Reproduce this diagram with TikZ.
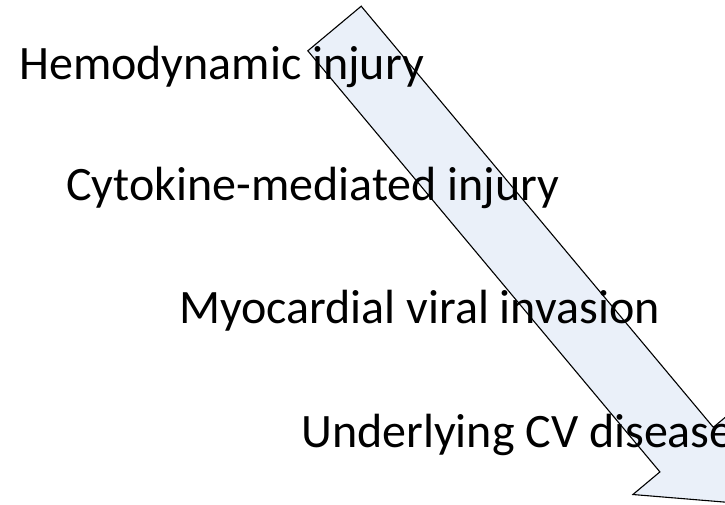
\documentclass[tikz,border=0pt]{standalone}
\usepackage{fontspec}
\setmainfont{Carlito}
\usepackage{xcolor}
\usepackage{tikz}
\usetikzlibrary{positioning}

\definecolor{arrowfill}{RGB}{234,240,249}

\begin{document}
\begin{tikzpicture}[
	x=1pt,y=-1pt,
	cause/.style={
		anchor=base west,
		inner sep=0pt,
		font=\fontsize{48}{56}\selectfont
	},
	bigarrow/.style={
		draw=black,
		fill=arrowfill,
		line width=1.1pt,
		line join=miter
	}
	]
	
	\clip (0,0) rectangle (725,504);
	
	% corners of the block arrow
	\coordinate (tailtop) at (361.2,6.2);
	\coordinate (tailleft) at (307.8,50.8);
	\coordinate (innerleft) at (659.9,471.9);
	\coordinate (outerleft) at (632.9,494.5);
	\coordinate (tip) at (730.9,502.6);
	\coordinate (outerright) at (740.3,404.7);
	\coordinate (innerright) at (713.3,427.3);
	
	\draw[bigarrow] (tailtop) -- (tailleft) -- (innerleft) -- (outerleft)
		-- (tip) -- (outerright) -- (innerright) -- cycle;
	
	\node[cause] (hemo) at (19,79) {Hemodynamic injury};
	\node[cause] (cyto) at (66,200) {Cytokine-mediated injury};
	\node[cause] (myo) at (179,323) {Myocardial viral invasion};
	\node[cause] (cv) at (301,447) {Underlying CV disease};
\end{tikzpicture}
\end{document}
